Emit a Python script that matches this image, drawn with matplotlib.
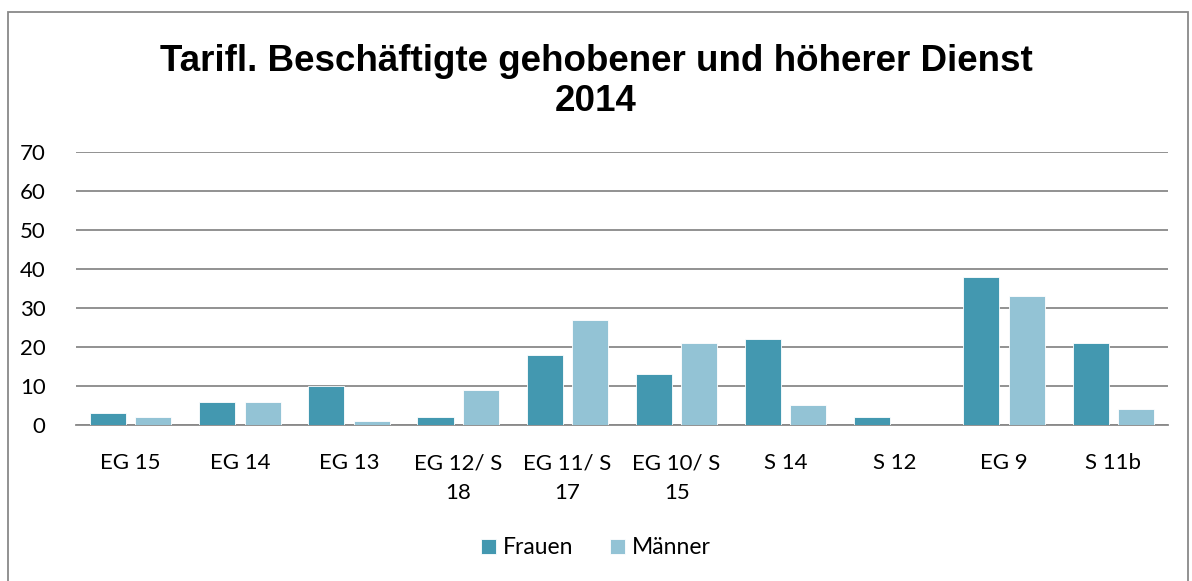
import numpy as np
import matplotlib.pyplot as plt
from matplotlib.patches import Rectangle

categories = ["EG 15", "EG 14", "EG 13", "EG 12/ S\n18", "EG 11/ S\n17",
              "EG 10/ S\n15", "S 14", "S 12", "EG 9", "S 11b"]
frauen = [3, 6, 10, 2, 18, 13, 22, 2, 38, 21]
maenner = [2, 6, 1, 9, 27, 21, 5, 0, 33, 4]

col_f = "#4398b0"
col_m = "#93c3d5"

fig = plt.figure(figsize=(11.92, 5.81), dpi=100)
fig.patches.append(Rectangle((0.0065, -0.01), 0.99, 0.989, transform=fig.transFigure,
                             fill=False, edgecolor="#898989", linewidth=1.3))
ax = fig.add_axes([0.0638, 0.2685, 0.916, 0.47])

x = np.arange(len(categories))
w = 0.33
off = 0.208
ax.bar(x - off, frauen, w, color=col_f, edgecolor="white", linewidth=0.6, label="Frauen", zorder=3)
ax.bar(x + off, maenner, w, color=col_m, edgecolor="white", linewidth=0.6, label="Männer", zorder=3)

ax.set_xlim(-0.5, len(categories) - 0.5)
ax.set_ylim(0, 70)
ax.set_yticks(range(0, 71, 10))
ax.yaxis.grid(True, color="#898989", linewidth=1.3, zorder=0)
ax.set_axisbelow(True)
for s in ["top", "right", "left"]:
    ax.spines[s].set_visible(False)
ax.spines["bottom"].set_color("#898989")
ax.spines["bottom"].set_linewidth(1.3)
ax.tick_params(axis="x", length=0, labelsize=16, pad=20.5)
ax.tick_params(axis="y", length=0, labelsize=16, pad=22)
ax.set_xticks(x)
ax.set_xticklabels(categories, fontfamily="Lato", linespacing=1.6)
for t in ax.get_yticklabels():
    t.set_fontfamily("Lato")

fig.text(0.5, 0.859, "Tarifl. Beschäftigte gehobener und höherer Dienst\n2014",
         ha="center", va="center", fontsize=26.5, fontweight="bold",
         fontfamily="Liberation Sans", linespacing=1.18)

fig.legend(loc="center", bbox_to_anchor=(0.5, 0.057), ncol=2, frameon=False,
           prop={"family": "Lato", "size": 16.5}, handlelength=0.65, handleheight=0.65,
           handletextpad=0.3, columnspacing=1.6)

fig.savefig("out.png", dpi=100)
